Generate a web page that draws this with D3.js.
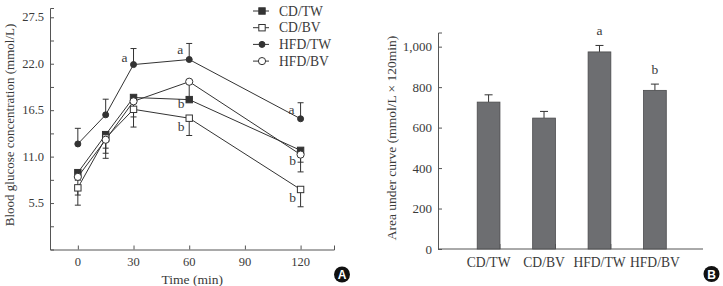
<!DOCTYPE html>
<html>
<head>
<meta charset="utf-8">
<script src="https://cdn.jsdelivr.net/npm/d3@7"></script>
<style>
  body { margin: 0; background: #fff; }
  svg text { font-family: "Liberation Serif", "DejaVu Serif", serif; fill: #3a3a3a; }
</style>
</head>
<body>
<div id="chart"></div>
<script>
// ---- data ----
var times = [0, 15, 30, 60, 120];
var seriesNames = ["CD/TW", "CD/BV", "HFD/TW", "HFD/BV"];
var cdTw  = [9.1, 13.6, 18.0, 17.75, 11.74];
var cdBv  = [7.3, 13.2, 16.6, 15.55, 7.11];
var hfdTw = [12.5, 15.95, 21.9, 22.5, 15.48];
var hfdBv = [8.6, 13.0, 17.55, 19.87, 11.24];
// signed error: + goes up, - goes down
var cdTwErr  = [-0.9, -1.6, -1.3, 0, -1.4];
var cdBvErr  = [-2.05, -2.4, -2.1, -2.05, -2.05];
var hfdTwErr = [1.85, 1.85, 1.9, 1.9, 1.9];
var hfdBvErr = [-2.15, -1.6, -1.85, -2.0, -2.05];
var yTicksA = [5.5, 11.0, 16.5, 22.0, 27.5];
var xTicksA = [0, 30, 60, 90, 120];
// significance letters: [series, time index, letter]
var lettersA = [["HFD/TW", 2, "a"], ["HFD/TW", 3, "a"], ["HFD/TW", 4, "a"],
                ["CD/TW", 3, "b"], ["CD/BV", 3, "b"], ["HFD/BV", 4, "b"], ["CD/BV", 4, "b"]];

var aucValues = [726, 647, 974, 784];
var aucErr    = [36, 33, 32, 31];
var aucLetters = ["", "", "a", "b"];
var yTicksB = [0, 200, 400, 600, 800, 1000];

var W = 723, H = 286;
var ink = "#333";

var svg = d3.select('#chart').append('svg')
  .attr('width', W)
  .attr('height', H);

// ================= panel A =================
var x = d3.scaleLinear().domain([-15, 138]).range([50, 334]);
var y = d3.scaleLinear().domain([0, 28.6]).range([249.5, 8]);

var series = [
  {name: "CD/TW",  vals: cdTw,  err: cdTwErr,  shape: "square", fill: ink},
  {name: "CD/BV",  vals: cdBv,  err: cdBvErr,  shape: "square", fill: "#fff"},
  {name: "HFD/TW", vals: hfdTw, err: hfdTwErr, shape: "circle", fill: ink},
  {name: "HFD/BV", vals: hfdBv, err: hfdBvErr, shape: "circle", fill: "#fff"}
];

var gA = svg.append('g');

// axes (major + minor ticks point inward)
gA.append('g')
  .attr('transform', 'translate(50,0)')
  .call(d3.axisRight(y).tickValues(yTicksA).tickSize(4).tickFormat(''))
  .call(function(g){ g.selectAll('path,line').attr('stroke', '#555'); });
gA.append('g')
  .attr('transform', 'translate(50,0)')
  .call(d3.axisRight(y).tickValues(yTicksA.map(function(v){ return v - 2.75; })).tickSize(4).tickFormat(''))
  .call(function(g){ g.select('.domain').remove(); g.selectAll('line').attr('stroke', '#555'); });
gA.selectAll('.ylabA').data(yTicksA).enter().append('text')
  .attr('x', 44).attr('y', function(d){ return y(d) + 4; })
  .attr('text-anchor', 'end').style('font-size', '12.5px')
  .text(function(d){ return d.toFixed(1); });

gA.append('g')
  .attr('transform', 'translate(0,249.5)')
  .call(d3.axisTop(x).tickValues(xTicksA).tickSize(4).tickFormat(''))
  .call(function(g){ g.selectAll('path,line').attr('stroke', '#555'); });
gA.selectAll('.xlabA').data(xTicksA).enter().append('text')
  .attr('x', function(d){ return x(d); }).attr('y', 265.5)
  .attr('text-anchor', 'middle').style('font-size', '12.5px')
  .text(function(d){ return d; });

gA.append('text').attr('x', x(60) + 3).attr('y', 283.5)
  .attr('text-anchor', 'middle').style('font-size', '13.5px').text('Time (min)');
gA.append('text')
  .attr('transform', 'translate(14,125) rotate(-90)')
  .attr('text-anchor', 'middle').style('font-size', '13px')
  .text('Blood glucose concentration (mmol/L)');

// error bars
series.forEach(function(s){
  s.vals.forEach(function(v, i){
    if (!s.err[i]) return;
    var px = x(times[i]), y1 = y(v), y2 = y(v + s.err[i]);
    gA.append('line').attr('x1', px).attr('x2', px).attr('y1', y1).attr('y2', y2)
      .attr('stroke', ink).attr('stroke-width', 1);
    gA.append('line').attr('x1', px - 3).attr('x2', px + 3).attr('y1', y2).attr('y2', y2)
      .attr('stroke', ink).attr('stroke-width', 1);
  });
});

// lines
var line = d3.line().x(function(d, i){ return x(times[i]); }).y(function(d){ return y(d); });
series.forEach(function(s){
  gA.append('path').datum(s.vals).attr('d', line)
    .attr('fill', 'none').attr('stroke', ink).attr('stroke-width', 1);
});

function marker(g, s, cx, cy){
  if (s.shape === "square") {
    g.append('rect').attr('x', cx - 3.2).attr('y', cy - 3.2).attr('width', 6.4).attr('height', 6.4)
      .attr('fill', s.fill).attr('stroke', ink).attr('stroke-width', 1);
  } else {
    g.append('circle').attr('cx', cx).attr('cy', cy)
      .attr('r', s.fill === ink ? 3 : 3.6)
      .attr('fill', s.fill).attr('stroke', ink).attr('stroke-width', 1);
  }
}
series.forEach(function(s){
  s.vals.forEach(function(v, i){ marker(gA, s, x(times[i]), y(v)); });
});

// letters
var letterOffsets = {"HFD/TW": [-9, -3], "CD/TW": [-8, 8], "CD/BV": [-8, 13], "HFD/BV": [-8, 10]};
lettersA.forEach(function(l){
  var s = series.filter(function(d){ return d.name === l[0]; })[0];
  var off = letterOffsets[l[0]];
  var dy = off[1];
  if (l[0] === "HFD/TW" && l[1] === 3) dy = -6;
  if (l[0] === "HFD/TW" && l[1] === 4) dy = -5;
  gA.append('text')
    .attr('x', x(times[l[1]]) + off[0]).attr('y', y(s.vals[l[1]]) + dy)
    .attr('text-anchor', 'middle').style('font-size', '13.5px').text(l[2]);
});

// legend
var leg = gA.selectAll('.leg').data(series).enter().append('g')
  .attr('transform', function(d, i){ return 'translate(253,' + (11 + i * 16.7) + ')'; });
leg.append('line').attr('x1', 0).attr('x2', 16).attr('stroke', ink).attr('stroke-width', 1);
leg.each(function(d){
  marker(d3.select(this), {shape: d.shape, fill: d.fill}, 9, 0);
});
leg.append('text').attr('x', 26).attr('y', 4.5).style('font-size', '13.6px')
  .text(function(d){ return d.name; });

// badge A
svg.append('circle').attr('cx', 342).attr('cy', 274.5).attr('r', 8).attr('fill', '#111');
svg.append('text').attr('x', 342).attr('y', 279)
  .attr('text-anchor', 'middle').style('font-family', 'Liberation Sans, Arial, sans-serif')
  .style('font-weight', 'bold').style('font-size', '12px').style('fill', '#fff').text('A');

// ================= panel B =================
var xb = d3.scaleBand().domain(seriesNames).range([444.5, 699]).padding(0.59);
var yb = d3.scaleLinear().domain([0, 1070]).range([249, 32.5]);
var gB = svg.append('g');

gB.append('g')
  .attr('transform', 'translate(438,0)')
  .call(d3.axisRight(yb).tickValues(yTicksB).tickSize(4).tickFormat(''))
  .call(function(g){ g.selectAll('path,line').attr('stroke', '#555'); });
gB.selectAll('.ylabB').data(yTicksB).enter().append('text')
  .attr('x', 432).attr('y', function(d){ return yb(d) + 4.5; })
  .attr('text-anchor', 'end').style('font-size', '13px')
  .text(function(d){ return d3.format(',')(d); });

// x axis line and boundary ticks
gB.append('line').attr('x1', 438).attr('x2', 703).attr('y1', 249).attr('y2', 249)
  .attr('stroke', '#555');
gB.selectAll('.bt').data(seriesNames.slice(1)).enter().append('line')
  .attr('x1', function(d){ return xb(d) - xb.step() * xb.padding(); })
  .attr('x2', function(d){ return xb(d) - xb.step() * xb.padding(); })
  .attr('y1', 249).attr('y2', 244).attr('stroke', '#555');
gB.selectAll('.xlabB').data(seriesNames).enter().append('text')
  .attr('x', function(d){ return xb(d) + xb.bandwidth() / 2; }).attr('y', 267)
  .attr('text-anchor', 'middle').style('font-size', '13.6px')
  .text(function(d){ return d; });

gB.append('text')
  .attr('transform', 'translate(396,138) rotate(-90)')
  .attr('text-anchor', 'middle').style('font-size', '13.5px')
  .text('Area under curve (mmol/L \u00d7 120min)');

// error bars then bars
seriesNames.forEach(function(n, i){
  var cx = xb(n) + xb.bandwidth() / 2;
  var top = yb(aucValues[i] + aucErr[i]);
  gB.append('line').attr('x1', cx).attr('x2', cx).attr('y1', yb(aucValues[i])).attr('y2', top)
    .attr('stroke', ink);
  gB.append('line').attr('x1', cx - 4).attr('x2', cx + 4).attr('y1', top).attr('y2', top)
    .attr('stroke', ink);
  if (aucLetters[i]) {
    gB.append('text').attr('x', cx).attr('y', top - 10)
      .attr('text-anchor', 'middle').style('font-size', '13.5px').text(aucLetters[i]);
  }
});
gB.selectAll('.bar').data(seriesNames).enter().append('rect')
  .attr('x', function(d){ return xb(d); })
  .attr('y', function(d, i){ return yb(aucValues[i]); })
  .attr('width', xb.bandwidth())
  .attr('height', function(d, i){ return 249 - yb(aucValues[i]); })
  .attr('fill', '#6d6e71').attr('stroke', '#4a4a4c').attr('stroke-width', 0.8);

// badge B
svg.append('circle').attr('cx', 711.5).attr('cy', 274).attr('r', 8).attr('fill', '#111');
svg.append('text').attr('x', 711.5).attr('y', 278.5)
  .attr('text-anchor', 'middle').style('font-family', 'Liberation Sans, Arial, sans-serif')
  .style('font-weight', 'bold').style('font-size', '12px').style('fill', '#fff').text('B');
</script>
</body>
</html>
